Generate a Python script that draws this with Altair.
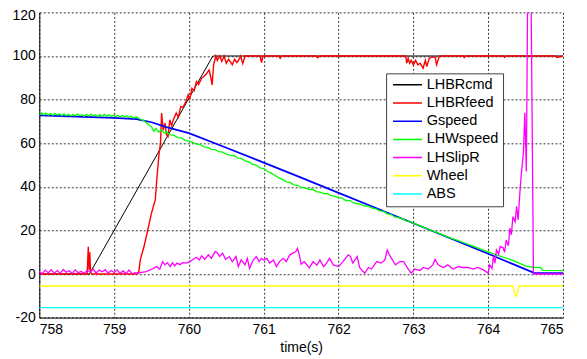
import altair as alt
import pandas as pd

series = ["LHBRcmd", "LHBRfeed", "Gspeed", "LHWspeed", "LHSlipR", "Wheel", "ABS"]
colors = ["#000000", "#ff0000", "#0000ff", "#00ff00", "#ff00ff", "#ffff00", "#00ffff"]
widths = [1.0, 1.4, 1.7, 1.3, 1.3, 1.3, 1.4]

x_ticks = [758, 759, 760, 761, 762, 763, 764, 765]
y_ticks = [-20, 0, 20, 40, 60, 80, 100, 120]

cmd_t = [758.0, 758.67, 760.32, 765.0]
cmd_v = [0, 0, 100, 100]

feed_t = [758.0, 758.64, 758.655, 758.665, 758.675, 758.685, 758.7, 759.3, 759.33, 759.35,
          759.4, 759.45, 759.5, 759.55, 759.57, 759.6, 759.62, 759.635, 759.656, 759.68,
          759.70, 759.72, 759.745, 759.77, 759.79, 759.83, 759.86, 759.89, 759.92, 759.96,
          759.99, 760.01, 760.04, 760.07, 760.10, 760.13, 760.17, 760.20, 760.24, 760.27,
          760.29, 760.31, 760.33, 760.36, 760.38, 760.41, 760.44, 760.47, 760.5, 760.53,
          760.55, 760.58, 760.61, 760.64, 760.66, 760.69, 760.72, 760.75, 760.95, 760.97,
          760.99, 761.2, 761.22, 761.24, 761.7, 761.72, 761.75, 762.9, 762.91, 762.93,
          762.95, 762.97, 763.0, 763.03, 763.06, 763.09, 763.13, 763.16, 763.18, 763.21,
          763.24, 763.29, 763.31, 763.33, 763.35, 763.66, 763.68, 763.7, 764.2, 764.22,
          764.24, 764.9, 764.92, 765.0]
feed_v = [0, 0, 12.5, 2, 10, 1, 0, 0, 1.1, 6.5,
          12.6, 20.2, 28, 34, 43, 55, 60, 73.8, 66, 69.2,
          64, 63, 70.7, 68, 70.7, 73.8, 72, 76.8, 76.5, 79.1,
          82.2, 80, 85.2, 84, 88.3, 87, 89.8, 90.6, 92.1, 93.6,
          90.6, 86.7, 95.9, 100, 98, 100, 97.5, 100, 96.7, 98.5,
          97.5, 96, 98.5, 97, 97.8, 100, 96.5, 100, 100, 97,
          100, 100, 99, 100, 100, 99.2, 100, 100, 96.7, 98.8,
          96.7, 98, 95.9, 98, 96, 96.7, 94.4, 98, 95.1, 98.8,
          99.5, 99.5, 96, 98, 100, 100, 99.3, 100, 100, 99.4,
          100, 100, 99.3, 100]

gs_t = [758.0, 758.5, 759.0, 759.3, 759.5, 759.7, 760.0, 760.5, 761.0, 761.5,
        762.0, 762.5, 763.0, 763.5, 764.0, 764.3, 764.62, 765.0]
gs_v = [72.8, 72.2, 71.6, 71.0, 69.6, 67.4, 64.6, 57.9, 51.1, 44.2,
        37.2, 30.3, 23.3, 16.3, 9.3, 5.0, 0.4, 0.4]

ws_t = [758.00, 758.03, 758.06, 758.09, 758.12, 758.15, 758.18, 758.21, 758.24, 758.27,
        758.30, 758.33, 758.36, 758.39, 758.42, 758.45, 758.48, 758.51, 758.54, 758.57,
        758.60, 758.63, 758.66, 758.69, 758.72, 758.75, 758.78, 758.81, 758.84, 758.87,
        758.90, 758.93, 758.96, 758.99, 759.02, 759.05, 759.08, 759.11, 759.14, 759.17,
        759.20, 759.23, 759.26, 759.30, 759.35, 759.40, 759.45, 759.50, 759.53, 759.56,
        759.60, 759.63, 759.67, 759.70, 759.75, 759.80, 759.85, 759.90, 759.95, 760.00,
        760.05, 760.10, 760.15, 760.20, 760.25, 760.30, 760.35, 760.40, 760.45, 760.50,
        760.55, 760.60, 760.65, 760.70, 760.75, 760.80, 760.85, 760.90, 760.95, 761.00,
        761.05, 761.10, 761.15, 761.20, 761.25, 761.30, 761.35, 761.40, 761.45, 761.50,
        761.55, 761.60, 761.65, 761.70, 761.75, 761.80, 761.85, 761.90, 761.95, 762.00,
        762.05, 762.10, 762.15, 762.20, 762.25, 762.30, 762.35, 762.40, 762.45, 762.50,
        762.55, 762.60, 762.65, 762.70, 762.75, 762.80, 762.85, 762.90, 762.95, 763.00,
        763.10, 763.20, 763.30, 763.40, 763.50, 763.60, 763.70, 763.80, 763.90, 764.00,
        764.10, 764.20, 764.30, 764.40, 764.50, 764.60, 764.70, 764.73, 765.00]
ws_v = [73.2, 73.9, 73.0, 73.8, 72.9, 73.6, 72.8, 73.7, 72.9, 73.4,
        72.6, 73.5, 72.7, 73.3, 72.5, 73.2, 72.6, 73.4, 72.7, 73.1,
        72.4, 73.2, 72.5, 73.3, 72.6, 73.0, 72.3, 73.1, 72.4, 73.2,
        72.5, 73.0, 72.2, 72.9, 72.1, 72.8, 72.0, 72.7, 72.0, 72.6,
        71.9, 72.4, 71.6, 72.0, 71.0, 70.3, 68.8, 67.5, 65.5, 66.8,
        65.0, 66.2, 64.6, 65.3, 63.8, 63.6, 62.6, 62.4, 61.3, 60.9,
        60.4, 59.6, 59.4, 58.3, 58.1, 57.2, 57.1, 56.1, 55.9, 55.0,
        54.5, 54.4, 53.2, 53.0, 51.9, 51.4, 50.3, 50.0, 48.7, 48.3,
        47.0, 46.3, 45.3, 44.1, 43.4, 42.3, 42.0, 40.9, 40.7, 39.7,
        39.5, 38.8, 39.0, 37.8, 37.6, 36.9, 37.0, 35.9, 35.6, 35.0,
        34.8, 33.6, 33.8, 32.6, 32.3, 31.9, 31.2, 31.1, 30.2, 29.9,
        29.0, 28.8, 27.6, 27.4, 26.2, 25.9, 25.4, 24.4, 24.2, 23.3,
        22.0, 20.5, 19.2, 17.8, 16.5, 15.3, 14.0, 12.8, 11.4, 10.2,
        8.9, 7.8, 6.6, 5.2, 3.6, 3.1, 3.0, 1.7, 1.6]

slip_t = [758.00, 758.04, 758.08, 758.12, 758.16, 758.20, 758.24, 758.28, 758.32, 758.36,
          758.40, 758.44, 758.48, 758.52, 758.56, 758.60, 758.64, 758.68, 758.72, 758.76,
          758.80, 758.84, 758.88, 758.92, 758.96, 759.00, 759.04, 759.08, 759.12, 759.16,
          759.20, 759.24, 759.28, 759.32, 759.345, 759.43, 759.50, 759.57, 759.61, 759.65,
          759.68, 759.71, 759.75, 759.78, 759.81, 759.84, 759.88, 759.92, 759.97, 760.01,
          760.06, 760.10, 760.14, 760.17, 760.21, 760.26, 760.30, 760.35, 760.38, 760.41,
          760.45, 760.49, 760.54, 760.58, 760.63, 760.66, 760.70, 760.75, 760.78, 760.81,
          760.86, 760.90, 760.94, 760.97, 761.00, 761.04, 761.08, 761.13, 761.17, 761.21,
          761.26, 761.30, 761.35, 761.39, 761.43, 761.45, 761.47, 761.50, 761.54, 761.57,
          761.61, 761.66, 761.71, 761.75, 761.80, 761.84, 761.88, 761.93, 762.00, 762.06,
          762.13, 762.16, 762.19, 762.25, 762.28, 762.35, 762.40, 762.44, 762.51, 762.57,
          762.62, 762.65, 762.68, 762.72, 762.76, 762.82, 762.87, 762.93, 762.97, 763.02,
          763.09, 763.13, 763.20, 763.26, 763.29, 763.33, 763.40, 763.46, 763.53, 763.60,
          763.66, 763.73, 763.80, 763.86, 763.93, 764.00, 764.02, 764.05, 764.07, 764.09,
          764.11, 764.14, 764.16, 764.20, 764.22, 764.24, 764.27, 764.29, 764.31, 764.33,
          764.36, 764.38, 764.40, 764.42, 764.44, 764.47, 764.49, 764.51, 764.53, 764.57,
          764.605, 764.61, 765.00]
slip_v = [1.0, 0.2, 1.8, 0.5, 2.0, 0.4, 1.6, 0.3, 2.1, 0.8,
          1.5, 0.2, 1.9, 0.6, 1.2, 0.3, 1.7, 0.9, 2.2, 0.5,
          1.8, 1.0, 2.0, 0.4, 1.6, 0.7, 1.9, 0.3, 1.4, 0.2,
          1.8, 0.1, 0.6, 0.2, 0.6, 1.1, 2.2, 3.4, 2.2, 5.7,
          4.2, 5.2, 3.4, 5.2, 3.7, 5.0, 4.3, 5.2, 5.0, 5.7,
          6.8, 7.7, 6.4, 8.3, 6.8, 8.8, 7.2, 10.3, 9.6, 8.1,
          9.6, 6.8, 8.0, 5.7, 8.0, 3.4, 6.5, 4.2, 7.2, 2.6,
          6.4, 8.0, 5.7, 7.2, 6.4, 7.2, 5.0, 6.4, 3.4, 5.7,
          7.2, 5.7, 8.8, 9.6, 10.3, 11.8, 9.6, 4.5, 5.7, 4.5,
          2.8, 5.7, 4.0, 6.5, 3.4, 5.0, 7.2, 4.2, 3.4, 5.7,
          8.8, 8.0, 5.0, 8.0, 3.0, 0.4, 3.0, 2.3, 5.7, 5.0,
          6.5, 11.0, 8.8, 6.5, 4.2, 5.7, 5.7, 2.3, 0.4, 2.3,
          1.6, 3.0, 2.3, 4.2, 6.8, 4.2, 3.0, 4.2, 2.3, 3.4,
          3.0, 3.0, 2.3, 3.0, 2.0, 0.4, 4.2, 2.5, 8.0, 5.0,
          11.0, 9.0, 12.6, 12.0, 10.0, 15.6, 13.0, 21.0, 18.0, 26.3,
          24.0, 31.0, 24.8, 35.5, 44.7, 55.4, 74.0, 47.0, 140.0, 140.0,
          0.0, 0.0, 0.0]

wheel_t = [758.0, 764.33, 764.35, 764.37, 764.39, 764.41, 765.0]
wheel_v = [-5.5, -5.5, -8.5, -10.4, -9.0, -5.5, -5.5]

abs_t = [758.0, 765.0]
abs_v = [-15.4, -15.4]

pairs = {
    "LHBRcmd": (cmd_t, cmd_v),
    "LHBRfeed": (feed_t, feed_v),
    "Gspeed": (gs_t, gs_v),
    "LHWspeed": (ws_t, ws_v),
    "LHSlipR": (slip_t, slip_v),
    "Wheel": (wheel_t, wheel_v),
    "ABS": (abs_t, abs_v),
}

frames = []
for name in series:
    t, v = pairs[name]
    frames.append(pd.DataFrame({"t": t, "v": v, "series": name}))
df = pd.concat(frames, ignore_index=True)

color = alt.Color(
    "series:N",
    scale=alt.Scale(domain=series, range=colors),
    legend=alt.Legend(
        title=None, orient="none", legendX=347, legendY=61,
        fillColor="white", strokeColor="#404040", padding=4.5,
        symbolType="stroke", symbolSize=841, symbolStrokeWidth=1.5,
        symbolOffset=1.4, labelOffset=3.7, clipHeight=14, rowPadding=3.2,
        labelFont="Liberation Sans", labelFontSize=14.5, labelColor="black",
        cornerRadius=0,
    ),
)

xenc = alt.X(
    "t:Q",
    scale=alt.Scale(domain=[758, 765], nice=False, zero=False),
    axis=alt.Axis(values=x_ticks, title="time(s)", labelExpr="toString(datum.value)"),
)
yenc = alt.Y(
    "v:Q",
    scale=alt.Scale(domain=[-20, 120], nice=False, zero=False),
    axis=alt.Axis(
        values=y_ticks, title=None, labelExpr="toString(datum.value)",
        labelOffset={"condition": {"test": "datum.value == 120", "value": 3}, "value": 0},
    ),
)

base = alt.Chart(df)
layers = []
for name, w in zip(series, widths):
    layers.append(
        base.transform_filter(alt.datum.series == name)
        .mark_line(strokeWidth=w, clip=True)
        .encode(x=xenc, y=yenc, color=color)
    )

chart = (
    alt.layer(*layers)
    .properties(
        width=524, height=305.4,
        autosize=alt.AutoSizeParams(type="none"),
        padding={"left": 31.3, "top": 4.3, "right": 16, "bottom": 40},
        background="white",
    )
    .configure_view(stroke=None)
    .configure_axis(
        domainColor="black", domainWidth=1,
        grid=True, gridColor="#333333", gridDash=[2, 2], gridWidth=1, gridOpacity=1,
        ticks=False,
        labelFont="Liberation Sans", labelFontSize=14, labelColor="black",
        titleFont="Liberation Sans", titleFontSize=14, titleFontWeight="normal",
        titleColor="black",
    )
    .configure_axisX(labelPadding=5, titlePadding=4)
    .configure_axisY(labelPadding=4)
)

chart.save("out.html", embed_options={"renderer": "svg", "actions": False})
